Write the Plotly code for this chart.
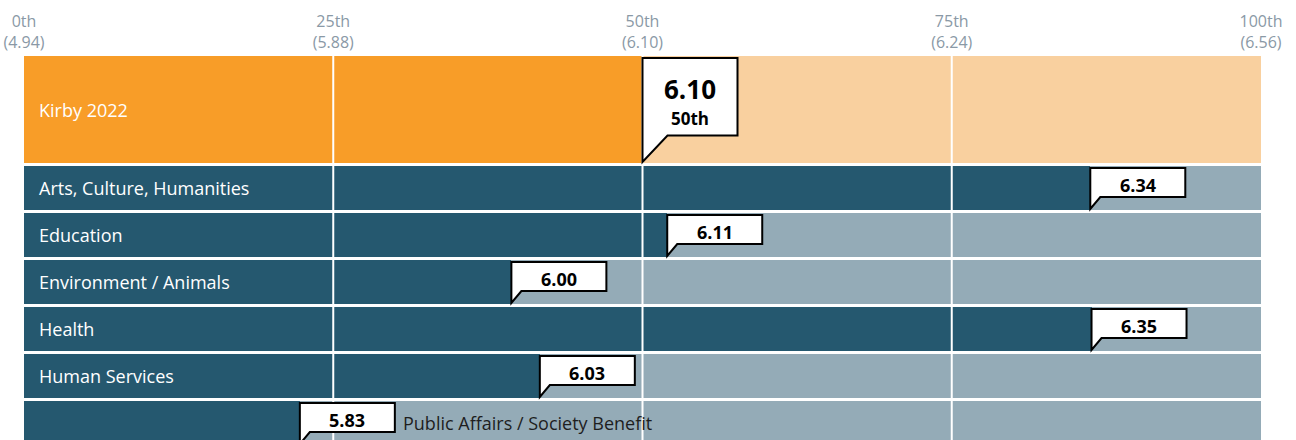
import plotly.graph_objects as go

# ---- data ----
categories = ["Kirby 2022", "Arts, Culture, Humanities", "Education",
              "Environment / Animals", "Health", "Human Services",
              "Public Affairs / Society Benefit"]
scores = [6.10, 6.34, 6.11, 6.00, 6.35, 6.03, 5.83]
percentiles = [50.0, 86.2, 52.0, 39.4, 86.3, 41.7, 22.3]
tick_pcts = [0, 25, 50, 75, 100]
tick_scores = ["4.94", "5.88", "6.10", "6.24", "6.56"]
tick_labels = [f"{p}th<br>({s})" for p, s in zip(tick_pcts, tick_scores)]

# ---- styling / layout ----
FONT = "Open Sans"
ORANGE, ORANGE_BG = "#F89D28", "#F9D09F"
TEAL, TEAL_BG = "#25586F", "#94ABB7"
TICK_COLOR = "#8A99A6"
W, H = 1296, 440
ML, MR, MT, MB = 24, 35, 56, 0
PLOT_H = H - MT - MB
ROW_H_MAIN, ROW_H, GAP = 107, 44, 3
BOX_W = 95

heights = [ROW_H_MAIN] + [ROW_H] * (len(categories) - 1)
tops, y = [], 0
for h in heights:
    tops.append(y)
    y += h + GAP
centers = [t + h / 2 for t, h in zip(tops, heights)]
fg = [ORANGE] + [TEAL] * (len(categories) - 1)
bg = [ORANGE_BG] + [TEAL_BG] * (len(categories) - 1)

fig = go.Figure()
fig.add_trace(go.Bar(y=centers, x=[100] * len(categories), width=heights,
                     orientation="h", marker=dict(color=bg, line=dict(width=0)),
                     hoverinfo="skip", showlegend=False))
fig.add_trace(go.Bar(y=centers, x=percentiles, width=heights,
                     orientation="h", marker=dict(color=fg, line=dict(width=0)),
                     hoverinfo="skip", showlegend=False))

shapes = []
for p in tick_pcts[1:-1]:
    shapes.append(dict(type="line", xref="x", yref="paper", x0=p, x1=p, y0=0, y1=1,
                       line=dict(color="white", width=2), layer="above"))

annotations = []
for i, (cat, sc, pct) in enumerate(zip(categories, scores, percentiles)):
    if i == 0:
        path = "M 0,-52.5 L 0,51.5 L 95,51.5 L 95,-26 L 25,-26 Z"
    else:
        path = "M 0,-21 L 0,20 L 95,20 L 95,-9 L 10,-9 Z"
    shapes.append(dict(type="path", xref="x", yref="y", xsizemode="pixel",
                       ysizemode="pixel", xanchor=pct, yanchor=centers[i],
                       path=path, fillcolor="white",
                       line=dict(color="black", width=2), layer="above"))
    if i == 0:
        annotations.append(dict(x=pct, y=centers[i], xref="x", yref="y",
                                text=f"<b>{sc:.2f}</b>", showarrow=False,
                                xanchor="center", yanchor="middle",
                                xshift=BOX_W / 2, yshift=20.5,
                                font=dict(family=FONT, size=26, color="black")))
        annotations.append(dict(x=pct, y=centers[i], xref="x", yref="y",
                                text=f"<b>{round(pct)}th</b>",
                                showarrow=False, xanchor="center", yanchor="middle",
                                xshift=BOX_W / 2, yshift=-9,
                                font=dict(family=FONT, size=17, color="black")))
    else:
        annotations.append(dict(x=pct, y=centers[i], xref="x", yref="y",
                                text=f"<b>{sc:.2f}</b>", showarrow=False,
                                xanchor="center", yanchor="middle",
                                xshift=BOX_W / 2, yshift=3,
                                font=dict(family=FONT, size=18, color="black")))
    if pct > 30:
        annotations.append(dict(x=0, y=centers[i], xref="x", yref="y", text=cat,
                                showarrow=False, xanchor="left", yanchor="middle",
                                xshift=13, font=dict(family=FONT, size=18, color="white")))
    else:
        annotations.append(dict(x=pct, y=centers[i], xref="x", yref="y", text=cat,
                                showarrow=False, xanchor="left", yanchor="middle",
                                xshift=BOX_W + 6, font=dict(family=FONT, size=18, color="#1E1E1E")))

fig.update_layout(
    width=W, height=H, margin=dict(l=ML, r=MR, t=MT, b=MB),
    paper_bgcolor="white", plot_bgcolor="white",
    barmode="overlay", bargap=0,
    shapes=shapes, annotations=annotations,
    font=dict(family=FONT),
    xaxis=dict(range=[0, 100], side="top", tickvals=tick_pcts, ticktext=tick_labels,
               showgrid=False, zeroline=False, showline=False, ticks="",
               ticklabelstandoff=4,
               tickfont=dict(family=FONT, size=16, color=TICK_COLOR), fixedrange=True),
    yaxis=dict(range=[PLOT_H, 0], showticklabels=False, showgrid=False,
               zeroline=False, showline=False, ticks="", fixedrange=True),
)

fig.write_html("out.html", config={"displayModeBar": False},
               post_script="document.body.style.margin='0px';")
